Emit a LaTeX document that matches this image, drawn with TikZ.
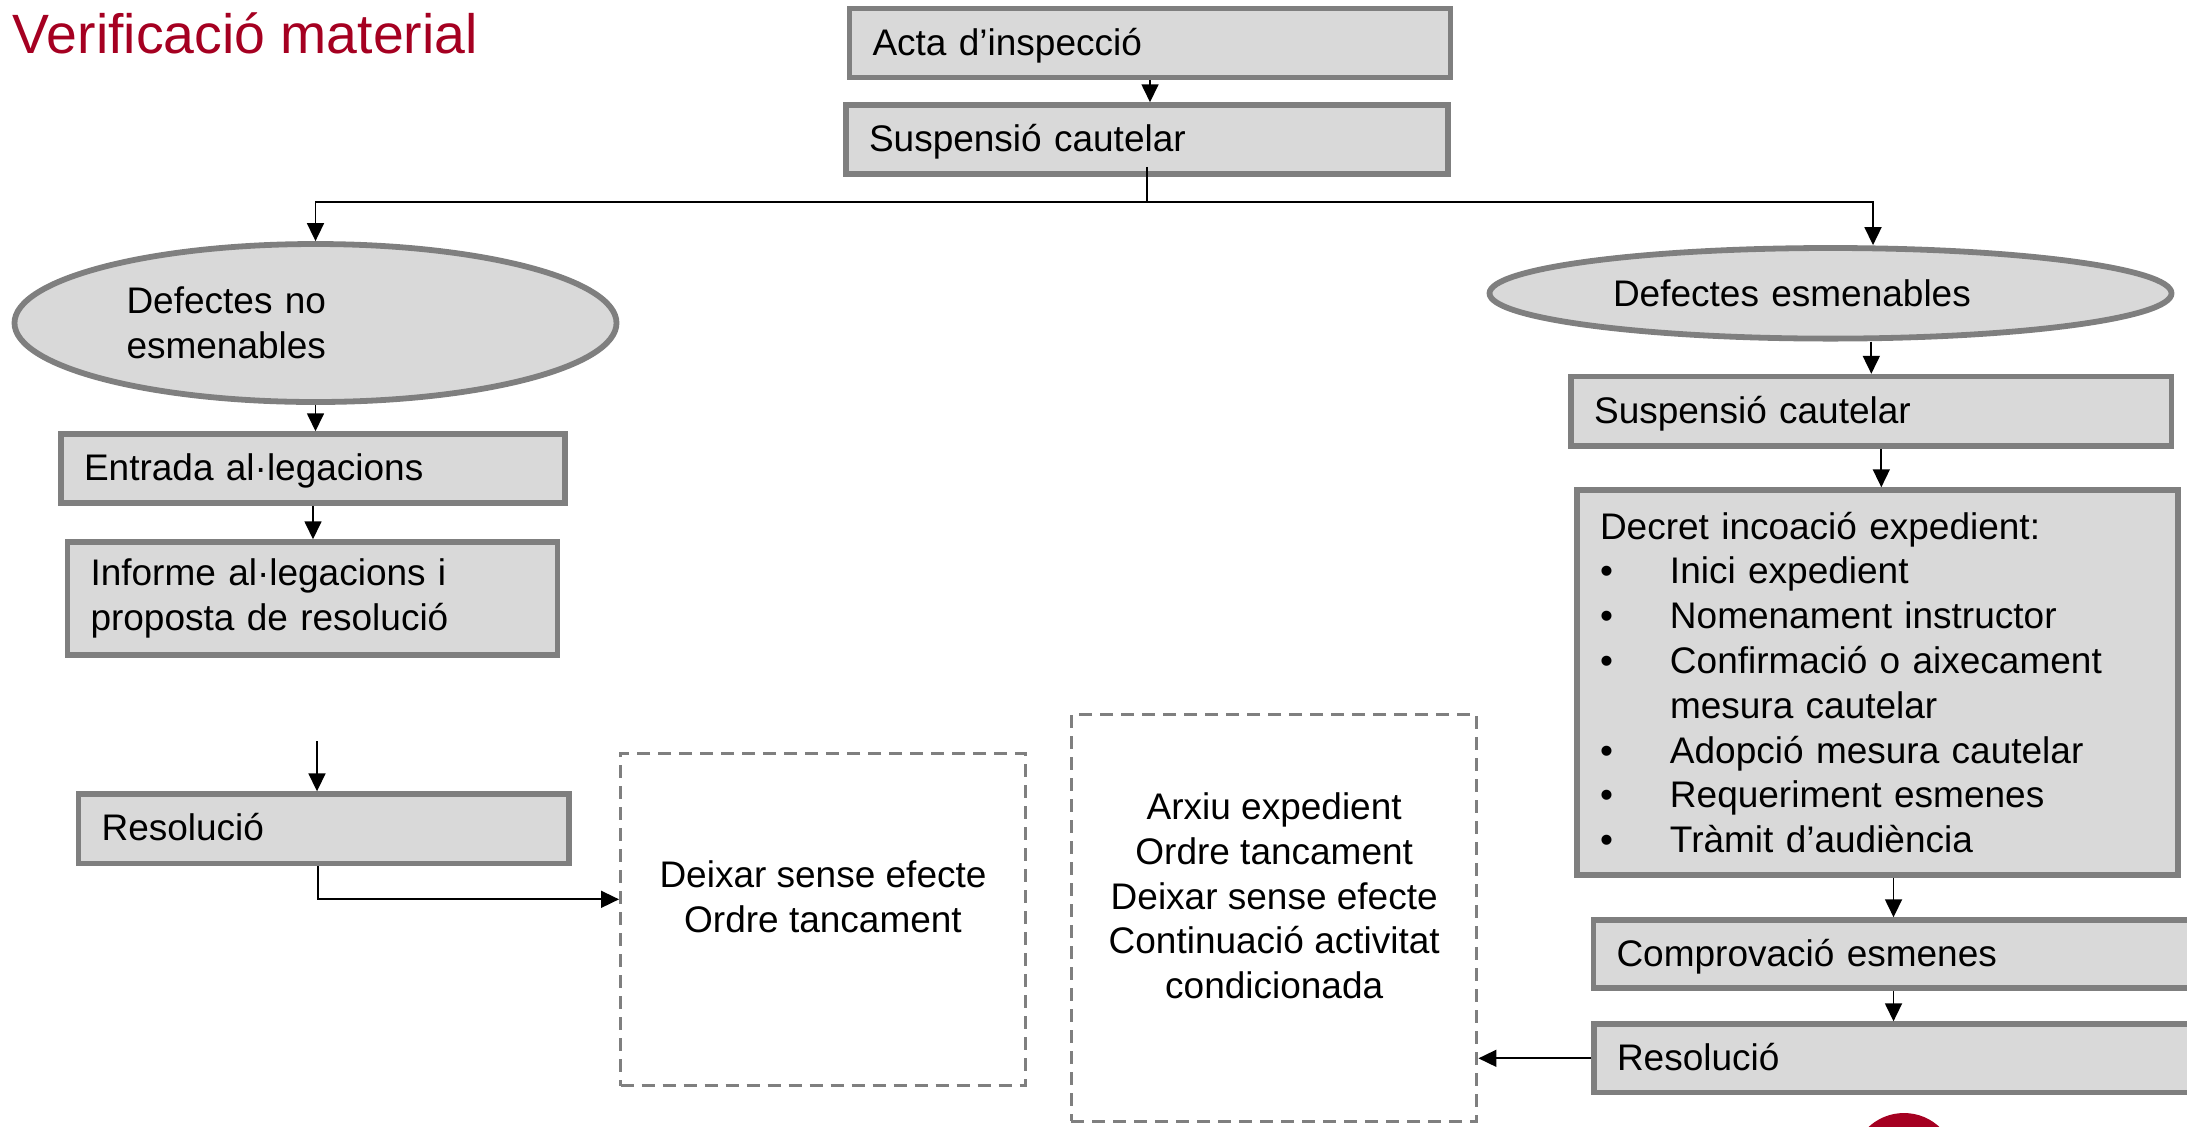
\documentclass[tikz,border=0pt]{standalone}
\usepackage{fontspec}
\setmainfont{Liberation Sans}
\usepackage{tikz}
\usetikzlibrary{arrows.meta, shapes}

\definecolor{titlered}{RGB}{165,0,33}
\definecolor{boxfill}{RGB}{217,217,217}
\definecolor{boxline}{RGB}{127,127,127}

\newcommand{\decretitem}[1]{\makebox[35pt][l]{•}#1}

\tikzset{
    stepbox/.style={rectangle, draw=boxline, fill=boxfill, line width=2.75pt, align=left, inner xsep=0pt, inner ysep=0pt},
    oneline/.style={text height=16pt, text depth=4pt},
    defect/.style={ellipse, draw=boxline, fill=boxfill, line width=2.9pt, align=left, inner sep=2pt},
    outcome/.style={rectangle, draw=boxline, line width=1.5pt, dash pattern=on 6.5pt off 4pt, align=center, inner sep=0pt},
    arr/.style={line width=0.85pt, -{Triangle[length=9pt, width=8.5pt]}}
}

\begin{document}
\begin{tikzpicture}[x=0.5pt, y=-0.5pt, font=\fontsize{18.5pt}{22.4pt}\selectfont]

    \useasboundingbox (0,0) rectangle (2187,1126);

    \node[anchor=base west, inner sep=0pt, text=titlered, font=\fontsize{27.7pt}{33pt}\selectfont] (title) at (12.5,53.3) {Verificació material};

    \node[stepbox, oneline, minimum width=300.5pt, minimum height=34.5pt, text width=277.5pt] (acta) at (1150,43) {Acta d’inspecció};
    \node[stepbox, oneline, minimum width=301pt, minimum height=34.5pt, text width=278pt] (susp) at (1147,139.5) {Suspensió cautelar};

    \node[defect, minimum width=301pt, minimum height=79pt, text width=189pt] (noesm) at (315.5,323) {Defectes no\\esmenables};
    \node[stepbox, oneline, minimum width=252pt, minimum height=34.5pt, text width=229pt] (entrada) at (313,468.5) {Entrada al·legacions};
    \node[stepbox, minimum width=245pt, minimum height=56.5pt, text width=222pt] (informe) at (312.5,598.5) {Informe al·legacions i\\proposta de resolució};
    \node[stepbox, oneline, minimum width=245.25pt, minimum height=34.75pt, text width=222.25pt] (resL) at (323.8,828.8) {Resolució};

    \node[defect, minimum width=341pt, minimum height=45.3pt, text width=217.5pt] (esm) at (1830.5,293.3) {Defectes esmenables};
    \node[stepbox, oneline, minimum width=300.25pt, minimum height=34.75pt, text width=277.25pt] (susp2) at (1871.3,411.3) {Suspensió cautelar};
    \node[stepbox, minimum width=300.5pt, minimum height=192.5pt, text width=277.5pt] (decret) at (1877.5,682.5) {Decret incoació expedient:\\
        \decretitem{Inici expedient}\\
        \decretitem{Nomenament instructor}\\
        \decretitem{Confirmació o aixecament}\\
        \hspace*{35pt}mesura cautelar\\
        \decretitem{Adopció mesura cautelar}\\
        \decretitem{Requeriment esmenes}\\
        \decretitem{Tràmit d’audiència}};
    \node[stepbox, oneline, minimum width=300pt, minimum height=34pt, text width=277pt] (compr) at (1893.5,954) {Comprovació esmenes};
    \node[stepbox, oneline, minimum width=300pt, minimum height=34.25pt, text width=277pt] (resR) at (1894,1058.3) {Resolució};

    \node[outcome, minimum width=202.5pt, minimum height=166.3pt] (deixar) at (823,919.3) {Deixar sense efecte\\Ordre tancament\\\mbox{}};
    \node[outcome, minimum width=202.75pt, minimum height=203.3pt] (arxiu) at (1274.2,918) {Arxiu expedient\\Ordre tancament\\Deixar sense efecte\\Continuació activitat\\condicionada\\\mbox{}};

    \coordinate (bus) at ([yshift=-12.75pt]susp.south);
    \coordinate (resin) at (317,741);

    \draw[arr] (acta.south) -- (acta.south |- susp.north);
    \draw[arr] ([yshift=5pt]susp.south) -- (bus) -| (noesm.north);
    \draw[arr] (bus) -| ([xshift=21.25pt]esm.north);

    \draw[arr] (noesm.south) -- (noesm.south |- entrada.north);
    \draw[arr] (entrada.south) -- (entrada.south |- informe.north);
    \draw[arr] (resin) -- (resin |- resL.north);
    \draw[arr] ([xshift=-3pt]resL.south) |- ([yshift=10pt]deixar.west);

    \draw[arr] (esm.south -| susp2.north) -- (susp2.north);
    \draw[arr] ([xshift=5pt]susp2.south) -- ([xshift=5pt]susp2.south |- decret.north);
    \draw[arr] (decret.south -| compr.north) -- (compr.north);
    \draw[arr] (compr.south) -- (compr.south |- resR.north);
    \draw[arr] (resR.west) -- (resR.west -| arxiu.east);

    \fill[titlered] (1904,1165) circle[radius=26pt];
\end{tikzpicture}
\end{document}
